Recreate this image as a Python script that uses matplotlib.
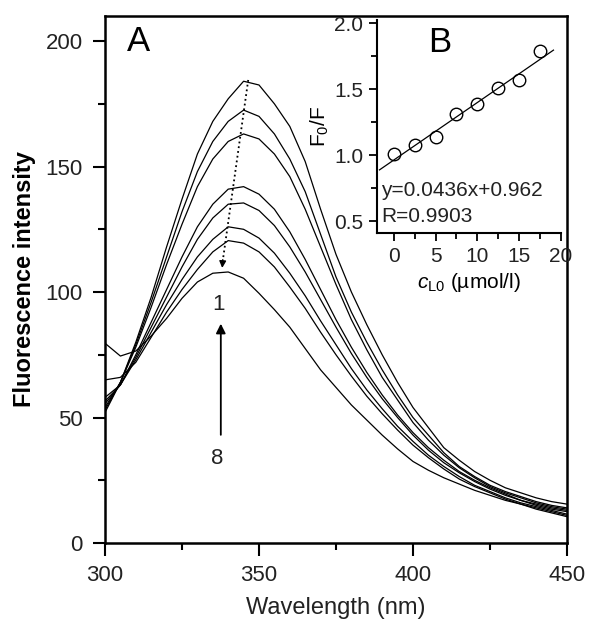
import numpy as np
import matplotlib
matplotlib.use('Agg')
import matplotlib.pyplot as plt
from matplotlib.ticker import MultipleLocator

plt.rcParams['font.family'] = ['Liberation Sans', 'DejaVu Sans']
plt.rcParams['mathtext.fontset'] = 'custom'
plt.rcParams['mathtext.rm'] = 'Liberation Sans'
plt.rcParams['mathtext.it'] = 'Liberation Sans:italic'

# spectra, every 5 nm
wavelength = np.arange(300, 451, 5)
spec1 = [52, 64, 80, 98, 118, 137, 155, 168, 177, 184, 182.5, 175, 166, 152, 133, 115, 100, 87, 75, 64,
         54, 46, 38, 33, 28.5, 25, 22, 20, 18, 16.5, 15.5]
spec2 = [53, 64, 79, 96, 114, 132, 148, 160, 168, 172.5, 170, 163, 153, 140, 123, 106, 92, 80, 69, 59,
         50, 43, 36, 30.5, 26.5, 23, 20.5, 18.5, 16.5, 15, 14]
spec3 = [54, 64, 78, 94, 111, 127, 142, 153, 160, 163, 161, 155, 146, 133, 118, 103, 89, 77, 66, 57,
         48, 41, 35, 30, 26, 22.5, 20, 18, 16, 14.5, 13.5]
spec4 = [55.5, 63, 75, 88, 101, 114, 126, 135, 141, 142, 139, 133, 124, 113, 101, 89, 78, 68, 59, 51,
         44, 38, 33, 28.5, 25, 22, 19.5, 17, 15.5, 14, 13]
spec5 = [56.5, 63, 74, 86, 98, 110, 121, 129.5, 135, 135.5, 132.5, 126.5, 118, 108, 97, 86, 75.5, 66, 57.5, 50,
         43, 37, 32, 28, 24.5, 21.5, 19, 17, 15, 13.5, 12.5]
spec6 = [58, 63, 73, 84, 95, 105, 114, 121, 126, 125, 121.5, 115.5, 107.5, 98.5, 88.5, 79, 69.5, 61, 53.5, 46.5,
         40.5, 35, 30.5, 26.5, 23, 20.5, 18, 16, 14.5, 13, 11.5]
spec7 = [65, 66, 72, 82, 92, 101, 109, 116, 120.5, 119.5, 116, 110, 102, 93.5, 84, 75, 66.5, 58.5, 51.5, 45,
         39, 34, 29.5, 25.5, 22.5, 20, 17.5, 15.5, 14, 12.5, 11]
spec8 = [79.6, 74.5, 76.5, 82.5, 89.5, 97.5, 104, 107.5, 108, 105.5, 99.5, 93, 86, 77.5, 69, 62, 55, 49, 43, 37.5,
         32.5, 29, 26, 23.5, 21, 19, 17, 15.5, 13.5, 12, 10.5]
spectra = [spec1, spec2, spec3, spec4, spec5, spec6, spec7, spec8]

# inset B: Stern-Volmer data
conc = [0, 2.5, 5, 7.5, 10, 12.5, 15, 17.5]
f0_f = [1.005, 1.073, 1.134, 1.313, 1.384, 1.510, 1.570, 1.788]
slope, intercept = 0.0436, 0.962

fig = plt.figure(figsize=(6, 6.34), dpi=100)
ax = fig.add_axes([0.175, 0.1435, 0.77, 0.8313])

for s in spectra:
    ax.plot(wavelength, s, color='black', lw=0.9)

ax.set_xlim(300, 450)
ax.set_ylim(0, 210)
ax.xaxis.set_major_locator(MultipleLocator(50))
ax.xaxis.set_minor_locator(MultipleLocator(25))
ax.yaxis.set_major_locator(MultipleLocator(50))
ax.yaxis.set_minor_locator(MultipleLocator(25))
ax.tick_params(which='both', direction='out', top=False, right=False, width=1.5, colors='black',
               labelsize=16, labelcolor='#222222')
ax.tick_params(which='major', length=9, pad=7)
ax.tick_params(which='minor', length=5)
for sp in ax.spines.values():
    sp.set_linewidth(1.8)
ax.set_xlabel('Wavelength (nm)', fontsize=17, color='#222222', labelpad=8)
ax.set_ylabel('Fluorescence intensity', fontsize=17, fontweight='bold', labelpad=7)

ax.text(311, 200, 'A', fontsize=25, ha='center', va='center')

# dotted line through the maxima, arrow 1 <- 8
ax.plot([346.5, 338.3], [184.5, 113], color='black', ls=':', lw=1.3)
ax.annotate('', xy=(338.0, 108.5), xytext=(338.3, 114),
            arrowprops=dict(arrowstyle='-|>', color='black', lw=1, mutation_scale=10))
ax.annotate('', xy=(337.6, 88.5), xytext=(337.6, 42),
            arrowprops=dict(arrowstyle='-|>', color='black', lw=1.3, mutation_scale=14))
ax.text(337.0, 95, '1', fontsize=16, ha='center', va='center', color='#222222')
ax.text(336.4, 33.5, '8', fontsize=16, ha='center', va='center', color='#222222')

# inset
ins = fig.add_axes([0.6283, 0.6325, 0.3067, 0.336])
ins.plot(conc, f0_f, 'o', mfc='none', mec='black', ms=9, mew=1)
xl = np.array([-1.7, 19.1])
ins.plot(xl, slope * xl + intercept, color='black', lw=0.9)
ins.set_xlim(-2, 20)
ins.set_ylim(0.41, 2.023)
ins.spines['top'].set_visible(False)
ins.spines['right'].set_visible(False)
for sp in ['left', 'bottom']:
    ins.spines[sp].set_linewidth(1.5)
ins.xaxis.set_major_locator(MultipleLocator(5))
ins.xaxis.set_minor_locator(MultipleLocator(2.5))
ins.yaxis.set_major_locator(MultipleLocator(0.5))
ins.yaxis.set_minor_locator(MultipleLocator(0.25))
ins.tick_params(which='both', direction='out', width=1.3, labelsize=15, labelcolor='#222222', pad=4)
ins.tick_params(which='major', length=6)
ins.tick_params(which='minor', length=4)
ins.set_yticks([0.5, 1.0, 1.5, 2.0])
ins.set_yticklabels(['0.5', '1.0', '1.5', '2.0'])
ins.set_xlabel(r'$\mathit{c}_{\mathrm{L0}}$ (µmol/l)', fontsize=15, labelpad=4)
ins.set_ylabel(r'F$_0$/F', fontsize=15, labelpad=2)
ins.text(-1.5, 0.735, 'y=0.0436x+0.962', fontsize=15, ha='left', va='center', color='#222222')
ins.text(-1.5, 0.538, 'R=0.9903', fontsize=15, ha='left', va='center', color='#222222')
ins.text(5.5, 1.85, 'B', fontsize=25, ha='center', va='center')

fig.savefig('out.png', dpi=100)
